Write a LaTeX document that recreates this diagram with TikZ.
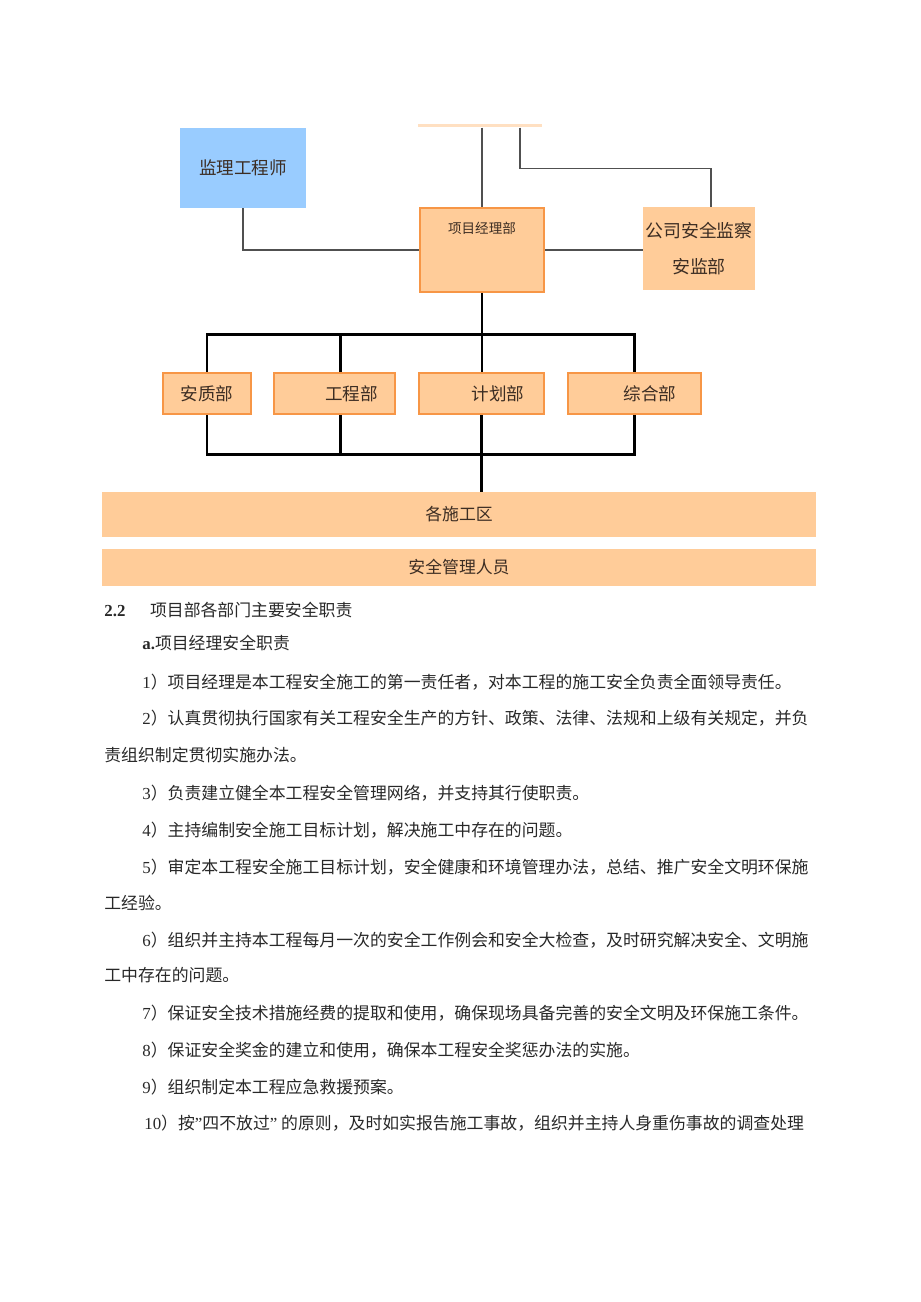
\documentclass[tikz,border=0pt]{standalone}
\usepackage{fontspec}
\usepackage{xcolor}
\usetikzlibrary{positioning,calc}
\setmainfont{Liberation Serif}
\newfontfamily\zh{Noto Sans CJK SC}
\definecolor{unitorange}{RGB}{255,204,153}
\definecolor{borderorange}{RGB}{247,150,70}
\definecolor{jianliblue}{RGB}{153,204,255}
\definecolor{linegray}{RGB}{80,80,80}
\definecolor{textbrown}{RGB}{60,45,35}
\definecolor{bodygray}{RGB}{40,40,40}

\begin{document}
\begin{tikzpicture}[
 x=0.02cm, y=-0.02cm,
 unit/.style={rectangle, fill=unitorange, align=center, text=textbrown, font=\zh\fontsize{10pt}{12pt}\selectfont, inner sep=1pt},
 dept/.style={unit, draw=borderorange, line width=1.2pt, minimum height=0.82cm, align=right},
 bar/.style={rectangle, fill=unitorange, minimum width=14.28cm, text=textbrown, font=\zh\fontsize{9.6pt}{12pt}\selectfont},
 link/.style={draw=linegray, line width=0.9pt},
 bus/.style={draw=black, line width=1.7pt},
 para/.style={anchor=base west, inner sep=0pt, text=bodygray, font=\fontsize{9.6pt}{12pt}\selectfont}
]
\useasboundingbox (0,0) rectangle (920,1302);

% Row 1: top units
\node[rectangle, fill=unitorange!60, minimum width=2.48cm, minimum height=0.07cm, inner sep=0pt] (topbox) at (480,125.5) {};
\node[unit, fill=jianliblue, minimum width=2.52cm, minimum height=1.6cm] (jianli) at (243,168) {监理工程师};
\node[unit, draw=borderorange, line width=1.6pt, minimum width=2.48cm, inner sep=0pt, text height=0.5cm, text depth=1.18cm, font=\zh\fontsize{7.7pt}{9pt}\selectfont] (xmjl) at (482,250) {项目经理部};
\node[unit, minimum width=2.24cm, minimum height=1.66cm, font=\zh\fontsize{10.2pt}{20pt}\selectfont] (gongsi) at (699,248.5) {公司安全监察\\安监部};

% Row 2: departments
\node[dept, minimum width=1.76cm] (anzhi) at (207,393.5) {安质部};
\node[dept, text width=1.74cm, inner xsep=0.34cm, right=0.42cm of anzhi] (gongcheng) {工程部};
\node[dept, text width=1.7cm, inner xsep=0.4cm, right=0.44cm of gongcheng] (jihua) {计划部};
\node[dept, text width=1.66cm, inner xsep=0.5cm, right=0.44cm of jihua] (zonghe) {综合部};

% Row 3: bars
\node[bar, minimum height=0.9cm] (shigong) at (459,514.5) {各施工区};
\node[bar, minimum height=0.74cm, below=0.22cm of shigong] (anquan) {安全管理人员};

% Lines
\coordinate (bustop) at (481,334);
\coordinate (busbot) at (481,454);
\draw[link] (xmjl.north |- topbox.south) -- (xmjl.north);
\draw[link] ([xshift=0.8cm]topbox.south) -- ++(0,41) -| ([xshift=0.24cm]gongsi.north);
\draw[link] (jianli.south) |- (xmjl.west);
\draw[link] (xmjl.east) -- (xmjl.east -| gongsi.west);

\draw[bus] (xmjl.south) -- (xmjl.south |- jihua.north);
\draw[bus] (anzhi.north) -- (anzhi.north |- bustop) -- (zonghe.north |- bustop) -- (zonghe.north);
\draw[bus] ([xshift=0.12cm]gongcheng.north) -- ([xshift=0.12cm]gongcheng.north |- bustop);
\draw[bus] (anzhi.south) -- (anzhi.south |- busbot) -- (zonghe.south |- busbot) -- (zonghe.south);
\draw[bus] ([xshift=0.12cm]gongcheng.south) -- ([xshift=0.12cm]gongcheng.south |- busbot);
\draw[bus] (jihua.south) -- (jihua.south |- shigong.north);

% Text below the chart
\node[para] (sec) at (104,616.5) {\textbf{2.2}\hspace{14pt}\zh 项目部各部门主要安全职责};
\node[para] (suba) at (142,649.5) {\textbf{a.}\zh 项目经理安全职责};
\node[para] (l1) at (142,688.5) {1\zh）项目经理是本工程安全施工的第一责任者，对本工程的施工安全负责全面领导责任。};
\node[para] (l2) at (142,724.5) {2\zh）认真贯彻执行国家有关工程安全生产的方针、政策、法律、法规和上级有关规定，并负};
\node[para] (l2b) at (104,761.5) {\zh 责组织制定贯彻实施办法。};
\node[para] (l3) at (142,799.5) {3\zh）负责建立健全本工程安全管理网络，并支持其行使职责。};
\node[para] (l4) at (142,836.5) {4\zh）主持编制安全施工目标计划，解决施工中存在的问题。};
\node[para] (l5) at (142,873.5) {5\zh）审定本工程安全施工目标计划，安全健康和环境管理办法，总结、推广安全文明环保施};
\node[para] (l5b) at (104,909.5) {\zh 工经验。};
\node[para] (l6) at (142,946.5) {6\zh）组织并主持本工程每月一次的安全工作例会和安全大检查，及时研究解决安全、文明施};
\node[para] (l6b) at (104,981.5) {\zh 工中存在的问题。};
\node[para] (l7) at (142,1019.5) {7\zh）保证安全技术措施经费的提取和使用，确保现场具备完善的安全文明及环保施工条件。};
\node[para] (l8) at (142,1056.5) {8\zh）保证安全奖金的建立和使用，确保本工程安全奖惩办法的实施。};
\node[para] (l9) at (142,1093.5) {9\zh）组织制定本工程应急救援预案。};
\node[para] (l10) at (144,1129.5) {10\zh）按\textrm{”}四不放过\textrm{”} 的原则，及时如实报告施工事故，组织并主持人身重伤事故的调查处理};

\end{tikzpicture}
\end{document}
